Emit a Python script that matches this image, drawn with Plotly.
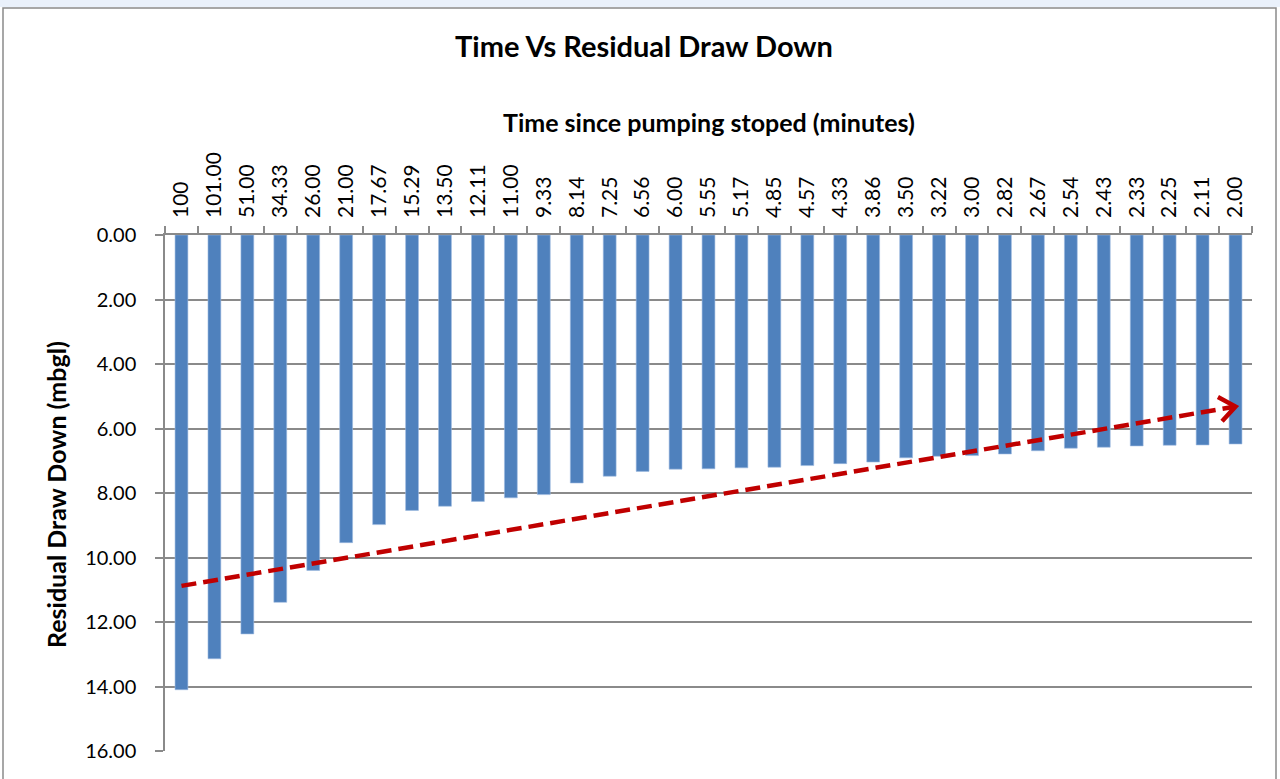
import math
import plotly.graph_objects as go

# ---- data ----
time_labels = ["100", "101.00", "51.00", "34.33", "26.00", "21.00", "17.67", "15.29",
               "13.50", "12.11", "11.00", "9.33", "8.14", "7.25", "6.56", "6.00",
               "5.55", "5.17", "4.85", "4.57", "4.33", "3.86", "3.50", "3.22",
               "3.00", "2.82", "2.67", "2.54", "2.43", "2.33", "2.25", "2.11", "2.00"]
drawdown = [14.10, 13.14, 12.37, 11.39, 10.40, 9.54, 8.98, 8.54, 8.41, 8.26, 8.15,
            8.05, 7.69, 7.48, 7.33, 7.26, 7.25, 7.22, 7.20, 7.15, 7.09, 7.04, 6.91,
            6.86, 6.84, 6.79, 6.69, 6.61, 6.58, 6.54, 6.52, 6.51, 6.48]
trend_values = [10.88, 5.32]  # start / end of the hand-drawn trend arrow
y_ticks = [0, 2, 4, 6, 8, 10, 12, 14, 16]

# ---- layout geometry ----
W, H = 1280, 779
ML, MR, MT, MB = 165, 28, 235, 28
PW, PH = W - ML - MR, H - MT - MB
n = len(time_labels)
xs = list(range(n))
sx = PW / n          # px per category
sy = PH / 16.0       # px per unit (downwards)

FONT = "Lato, 'Open Sans', sans-serif"
GRID = "#8a8a8a"
RED = "#C00000"

fig = go.Figure()
fig.add_trace(go.Bar(x=xs, y=drawdown, marker=dict(color="#4F81BD",
                     line=dict(color="#9dbbe0", width=0.6)), width=0.39,
                     showlegend=False, hoverinfo="x+y"))

# trend arrow shaft
tx = [xs[0], xs[-1]]
fig.add_trace(go.Scatter(x=tx, y=trend_values, mode="lines",
                         line=dict(color=RED, width=4.5, dash="15px,7px"),
                         showlegend=False, hoverinfo="skip"))
# arrow head (open chevron) computed from the shaft direction
dxp = (tx[1] - tx[0]) * sx
dyp = (trend_values[1] - trend_values[0]) * sy
ang = math.atan2(dyp, dxp)
L = 20
hx, hy = [], []
for s in (1, None, -1):
    if s is None:
        hx.append(tx[1]); hy.append(trend_values[1]); continue
    a = ang + math.pi + s * math.radians(38)
    hx.append(tx[1] + L * math.cos(a) / sx)
    hy.append(trend_values[1] + L * math.sin(a) / sy)
fig.add_trace(go.Scatter(x=hx, y=hy, mode="lines",
                         line=dict(color=RED, width=4.5), showlegend=False,
                         hoverinfo="skip"))

fig.update_layout(
    width=W, height=H,
    margin=dict(l=ML, r=MR, t=MT, b=MB),
    paper_bgcolor="white", plot_bgcolor="white",
    font=dict(family=FONT, color="black"),
    title=dict(text="<b>Time Vs Residual Draw Down</b>", x=644 / W, xref="container",
               xanchor="center", y=1 - 47 / H, yref="container", yanchor="middle",
               font=dict(size=29, family=FONT)),
    bargap=0.6,
    xaxis=dict(side="top", range=[-0.5, n - 0.5], tickmode="array", tickvals=xs,
               ticktext=time_labels, tickangle=-90, ticks="", ticklen=0,
               ticklabelstandoff=11,
               tickfont=dict(size=21, family=FONT), showgrid=False, zeroline=False,
               showline=True, linecolor=GRID, linewidth=1.5,
               minor=dict(tickmode="array", tickvals=[i - 0.5 for i in range(n + 1)],
                          ticks="outside", ticklen=7, tickcolor=GRID, tickwidth=1.5,
                          showgrid=False)),
    yaxis=dict(range=[16, 0], tickmode="array", tickvals=y_ticks,
               ticktext=[f"{v:.2f}" for v in y_ticks], ticks="outside", ticklen=8,
               ticklabelstandoff=15,
               tickcolor=GRID, tickwidth=1.5, tickfont=dict(size=20, family=FONT),
               showgrid=True, gridcolor=GRID, gridwidth=1.5, zeroline=False,
               showline=True, linecolor=GRID, linewidth=1.5),
)

fig.add_annotation(text="<b>Time since pumping stoped (minutes)</b>", xref="paper",
                   yref="paper", x=0.5, y=1 + (MT - 122) / PH, xanchor="center",
                   yanchor="middle", showarrow=False, font=dict(size=25, family=FONT))
fig.add_annotation(text="<b>Residual Draw Down (mbgl)</b>", xref="paper", yref="paper",
                   x=(56 - ML) / PW, y=1 - (495 - MT) / PH, xanchor="center",
                   yanchor="middle", textangle=-90, showarrow=False,
                   font=dict(size=25, family=FONT))

# chart-area border and faint strip above it
fig.add_shape(type="rect", xref="paper", yref="paper",
              x0=(0 - ML) / PW, x1=(W - ML) / PW, y0=1 + MT / PH, y1=1 + (MT - 7) / PH,
              fillcolor="#eaf1fb", line=dict(width=0), layer="below")
fig.add_shape(type="rect", xref="paper", yref="paper",
              x0=(3 - ML) / PW, x1=(1276 - ML) / PW, y0=1 + (MT - 8) / PH,
              y1=-(MB + 20) / PH, line=dict(color="#8a8a8a", width=1.5),
              fillcolor="rgba(0,0,0,0)")

fig.write_html("out.html", config={"displayModeBar": False},
               post_script="document.body.style.margin='0';document.body.style.padding='0';")
